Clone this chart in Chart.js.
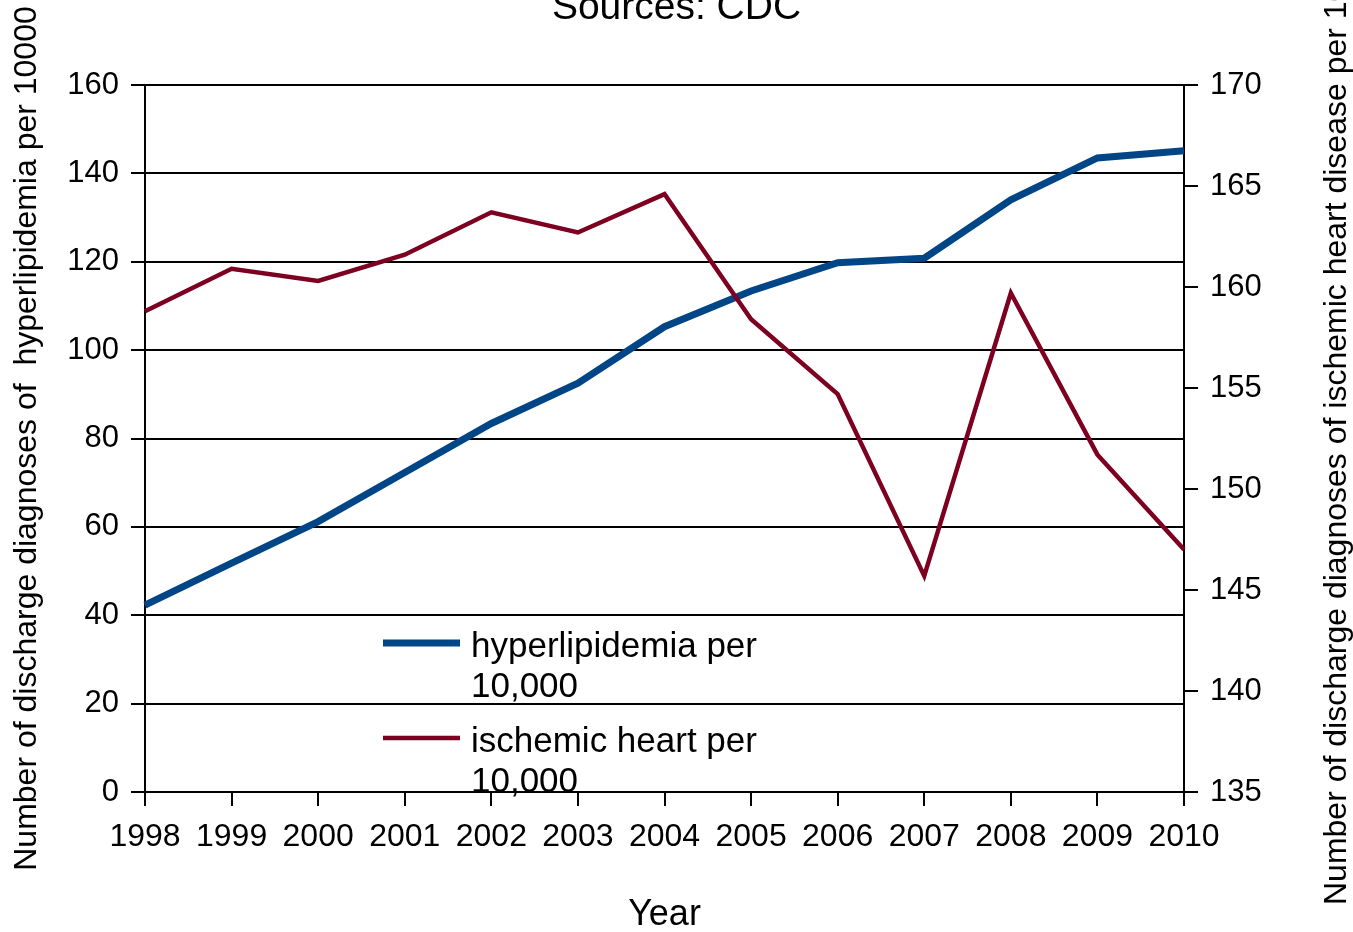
<!DOCTYPE html>
<html>
<head>
<meta charset="utf-8">
<script src="https://cdn.jsdelivr.net/npm/chart.js@4.4.1/dist/chart.umd.min.js"></script>
<style>
  html, body { margin: 0; padding: 0; background: #fff; }
  #wrap { position: relative; width: 1353px; height: 932px; overflow: hidden; }
</style>
</head>
<body>
<div id="wrap"><canvas id="chart"></canvas></div>
<script>
// data
const years = ['1998', '1999', '2000', '2001', '2002', '2003', '2004', '2005', '2006', '2007', '2008', '2009', '2010'];
const hyperlipidemia = [42.3, 51.8, 61.2, 72.3, 83.4, 92.5, 105.3, 113.4, 119.8, 120.8, 134.0, 143.5, 145.1];
const ischemicHeart = [158.8, 160.9, 160.3, 161.6, 163.7, 162.7, 164.6, 158.4, 154.7, 145.7, 159.7, 151.7, 147.0];
const leftTitle = 'Number of discharge diagnoses of  hyperlipidemia per 10000';
const rightTitle = 'Number of discharge diagnoses of ischemic heart disease per 10000';
const legendLabels = [['hyperlipidemia per', '10,000'], ['ischemic heart per', '10,000']];

const FONT = "'Liberation Sans', Arial, sans-serif";
const BLUE = '#004586', RED = '#7e0021';

// legend drawn inside the plot, two-line labels
const boxLegend = {
  id: 'boxLegend',
  afterDraw(chart) {
    const { ctx, chartArea: ca } = chart;
    const rows = [
      { ds: chart.data.datasets[0], lines: legendLabels[0], y: ca.top + 558 },
      { ds: chart.data.datasets[1], lines: legendLabels[1], y: ca.top + 653 }
    ];
    ctx.save();
    ctx.font = '35px ' + FONT;
    ctx.fillStyle = '#000';
    ctx.textAlign = 'left';
    ctx.textBaseline = 'alphabetic';
    rows.forEach(r => {
      ctx.strokeStyle = r.ds.borderColor;
      ctx.lineWidth = r.ds.borderWidth;
      ctx.beginPath();
      ctx.moveTo(ca.left + 238, r.y);
      ctx.lineTo(ca.left + 315, r.y);
      ctx.stroke();
      r.lines.forEach((t, i) => ctx.fillText(t, ca.left + 326, r.y + 14 + i * 40));
    });
    ctx.restore();
  }
};

// right axis title reads bottom to top like the left one
const rightAxisTitle = {
  id: 'rightAxisTitle',
  afterDraw(chart) {
    const { ctx, chartArea: ca } = chart;
    ctx.save();
    ctx.translate(chart.width - 16, ca.bottom + 113);
    ctx.rotate(-Math.PI / 2);
    ctx.font = '32px ' + FONT;
    ctx.fillStyle = '#000';
    ctx.textAlign = 'left';
    ctx.textBaseline = 'middle';
    ctx.fillText(rightTitle, 0, 0);
    ctx.restore();
  }
};

const tickFont = { family: FONT, size: 31 };

new Chart(document.getElementById('chart'), {
  type: 'line',
  data: {
    labels: years,
    datasets: [
      { label: 'hyperlipidemia per 10,000', data: hyperlipidemia, yAxisID: 'y', borderColor: BLUE, backgroundColor: BLUE, borderWidth: 7, pointRadius: 0, tension: 0, order: 1 },
      { label: 'ischemic heart per 10,000', data: ischemicHeart, yAxisID: 'y2', borderColor: RED, backgroundColor: RED, borderWidth: 4.5, pointRadius: 0, tension: 0, order: 0 }
    ]
  },
  options: {
    responsive: true, maintainAspectRatio: false, animation: false,
    devicePixelRatio: 1,
    layout: { padding: 0 },
    plugins: {
      legend: { display: false },
      tooltip: { enabled: false },
      title: {
        display: true, text: 'Sources: CDC', color: '#000',
        font: { family: FONT, size: 39, weight: 'normal', lineHeight: 1 },
        padding: { top: -11, bottom: 57 }
      }
    },
    scales: {
      x: {
        grid: { drawOnChartArea: false, tickLength: 14, color: '#000', lineWidth: 2 },
        border: { color: '#000', width: 2 },
        ticks: { color: '#000', font: { family: FONT, size: 32 }, padding: 12, maxRotation: 0, autoSkip: false },
        title: { display: true, text: 'Year', color: '#000', font: { family: FONT, size: 36, lineHeight: 1 }, padding: { top: 0, bottom: -1 } },
        afterFit: s => { s.height = 140; }
      },
      y: {
        position: 'left', min: 0, max: 160,
        grid: { color: '#000', lineWidth: 2, tickLength: 14 },
        border: { color: '#000', width: 2 },
        ticks: { stepSize: 20, color: '#000', font: tickFont, padding: 12 },
        title: { display: true, text: leftTitle, color: '#000', font: { family: FONT, size: 32, lineHeight: 1 }, padding: { top: 11, bottom: 0 } },
        afterFit: s => { s.width = 145; }
      },
      y2: {
        position: 'right', min: 135, max: 170,
        grid: { drawOnChartArea: false, color: '#000', lineWidth: 2, tickLength: 14 },
        border: { color: '#000', width: 2 },
        ticks: { stepSize: 5, color: '#000', font: tickFont, padding: 12 },
        afterFit: s => { s.width = 169; }
      }
    }
  },
  plugins: [boxLegend, rightAxisTitle]
});
</script>
</body>
</html>
